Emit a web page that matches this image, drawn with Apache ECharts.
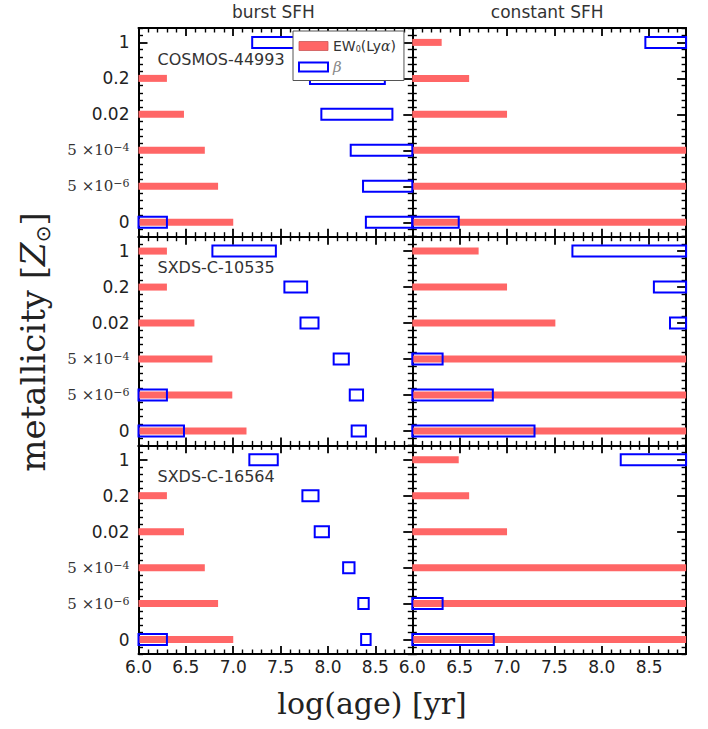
<!DOCTYPE html>
<html>
<head>
<meta charset="utf-8">
<script src="https://cdn.jsdelivr.net/npm/echarts@6/dist/echarts.min.js"></script>
<style>
  html, body { margin: 0; padding: 0; background: #fff; }
  #chart { width: 708px; height: 729px; }
</style>
</head>
<body>
<div id="chart"></div>
<script>
// metallicity rows, bottom to top (index 0 .. 5)
var metalNames = ['0', '5e-6', '5e-4', '0.02', '0.2', '1'];
var metalTickText = ['0', '{m|5 ×10}{e|−6}', '{m|5 ×10}{e|−4}', '0.02', '0.2', '1'];
var ageTicks = [6.0, 6.5, 7.0, 7.5, 8.0, 8.5];
var ageMin = 6.0, ageMax = 8.89;
var columnTitles = ['burst SFH', 'constant SFH'];
var objectNames = ['COSMOS-44993', 'SXDS-C-10535', 'SXDS-C-16564'];

// EW0(Lya): upper end of allowed log(age) per metallicity row (null = none)
var ewBurstCosmos  = [7.00, 6.84, 6.70, 6.48, 6.30, null];
var ewConstCosmos  = [8.90, 8.90, 8.90, 7.00, 6.60, 6.31];
var ewBurst10535   = [7.14, 6.99, 6.78, 6.59, 6.30, 6.30];
var ewConst10535   = [8.90, 8.90, 8.90, 7.51, 7.00, 6.70];
var ewBurst16564   = [7.00, 6.84, 6.70, 6.48, 6.30, null];
var ewConst16564   = [8.90, 8.90, 8.90, 7.00, 6.60, 6.49];

// beta: allowed log(age) ranges [row, from, to]
var betaBurstCosmos = [[0, 6.00, 6.30], [0, 8.40, 8.90], [1, 8.37, 8.90], [2, 8.24, 8.90],
                       [3, 7.93, 8.68], [4, 7.81, 8.60], [5, 7.20, 8.20]];
var betaConstCosmos = [[0, 6.00, 6.49], [5, 8.46, 8.90]];
var betaBurst10535  = [[0, 6.00, 6.48], [0, 8.25, 8.40], [1, 6.00, 6.30], [1, 8.23, 8.37],
                       [2, 8.06, 8.22], [3, 7.71, 7.90], [4, 7.54, 7.78], [5, 6.78, 7.45]];
var betaConst10535  = [[0, 6.00, 7.29], [1, 6.00, 6.85], [2, 6.00, 6.32], [3, 8.72, 8.90],
                       [4, 8.55, 8.90], [5, 7.69, 8.90]];
var betaBurst16564  = [[0, 6.00, 6.30], [0, 8.35, 8.45], [1, 8.32, 8.43], [2, 8.16, 8.28],
                       [3, 7.86, 8.01], [4, 7.73, 7.90], [5, 7.17, 7.47]];
var betaConst16564  = [[0, 6.00, 6.86], [1, 6.00, 6.32], [5, 8.20, 8.90]];

var panels = [
  [ewBurstCosmos, betaBurstCosmos], [ewConstCosmos, betaConstCosmos],
  [ewBurst10535, betaBurst10535],   [ewConst10535, betaConst10535],
  [ewBurst16564, betaBurst16564],   [ewConst16564, betaConst16564]
];

var ewColor = '#ff6666', betaColor = '#0000ff';
var ewHeight = 7, betaHeight = 11;

var colLeft = [138.5, 412.3], panelW = 273.8;
var rowTop = [28, 236.7, 445.3], panelH = 208.7;

// tick positions
var yMajor = [0, 1, 2, 3, 4, 5];
var yMinor = [];
for (var k = -2; k <= 27; k++) { if (k % 5 !== 0) yMinor.push(k / 5); }
var xMinor = [];
for (var j = 0; j <= 28; j++) { if (j % 5 !== 0) xMinor.push(6 + j / 10); }

function isStep(v, step) { return Math.abs(v / step - Math.round(v / step)) < 1e-6; }

function xAxis(gi, pos, major, labels) {
  var label = labels
    ? { show: true, margin: 4, fontFamily: 'DejaVu Sans', fontSize: 17, color: '#222',
        formatter: function (v) { return isStep(v, 0.5) && v <= 8.5 ? v.toFixed(1) : ''; } }
    : { show: false };
  return {
    type: 'value', gridIndex: gi, position: pos, min: ageMin, max: ageMax,
    axisLine: { show: major, onZero: false, lineStyle: { color: '#000', width: 2 } },
    axisTick: { show: true, inside: true, length: major ? 8 : 4.5,
      customValues: major ? ageTicks : xMinor, lineStyle: { color: '#000', width: major ? 1.8 : 1.4 } },
    axisLabel: label,
    splitLine: { show: false }
  };
}

function yAxis(gi, pos, major, labels) {
  var label = labels
    ? { show: true, margin: 9, fontFamily: 'DejaVu Sans', fontSize: 17, color: '#222',
        formatter: function (v) {
          return isStep(v, 1) && v >= 0 && v <= 5 ? metalTickText[Math.round(v)] : '';
        },
        rich: {
          m: { fontFamily: 'DejaVu Serif', fontSize: 15, color: '#333', lineHeight: 16,
               padding: [5, 0, 5, 0], verticalAlign: 'middle' },
          e: { fontFamily: 'DejaVu Serif', fontSize: 11, color: '#333', lineHeight: 12,
               verticalAlign: 'top' }
        } }
    : { show: false };
  return {
    type: 'value', gridIndex: gi, position: pos, min: -0.4, max: 5.4,
    axisLine: { show: major, onZero: false, lineStyle: { color: '#000', width: 2 } },
    axisTick: { show: true, inside: true, length: major ? 9 : 4.5,
      customValues: major ? yMajor : yMinor, lineStyle: { color: '#000', width: major ? 1.8 : 1.4 } },
    axisLabel: label,
    splitLine: { show: false }
  };
}

function renderEw(params, api) {
  var row = api.value(0);
  var p0 = api.coord([ageMin, row]);
  var p1 = api.coord([api.value(1), row]);
  var rect = echarts.graphic.clipRectByRect(
    { x: p0[0], y: p0[1] - ewHeight / 2, width: p1[0] - p0[0], height: ewHeight },
    params.coordSys);
  return rect && { type: 'rect', shape: rect, style: { fill: ewColor } };
}

function renderBeta(params, api) {
  var row = api.value(0);
  var p0 = api.coord([api.value(1), row]);
  var p1 = api.coord([api.value(2), row]);
  var rect = echarts.graphic.clipRectByRect(
    { x: p0[0], y: p0[1] - betaHeight / 2, width: p1[0] - p0[0], height: betaHeight },
    params.coordSys);
  return rect && { type: 'rect', shape: rect,
    style: { fill: 'none', stroke: betaColor, lineWidth: 2 } };
}

var grids = [], xAxes = [], yAxes = [], series = [], texts = [];

panels.forEach(function (p, i) {
  var row = Math.floor(i / 2), col = i % 2;
  grids.push({ left: colLeft[col], top: rowTop[row], width: panelW, height: panelH });
  xAxes.push(xAxis(i, 'bottom', true, row === 2));
  xAxes.push(xAxis(i, 'bottom', false));
  xAxes.push(xAxis(i, 'top', true));
  xAxes.push(xAxis(i, 'top', false));
  yAxes.push(yAxis(i, 'left', true, col === 0));
  yAxes.push(yAxis(i, 'left', false));
  yAxes.push(yAxis(i, 'right', true));
  yAxes.push(yAxis(i, 'right', false));

  var ewData = p[0].map(function (v, r) { return [r, v]; })
                   .filter(function (d) { return d[1] != null; });
  series.push({
    type: 'custom', name: 'ew', coordinateSystem: 'cartesian2d',
    xAxisIndex: i * 4, yAxisIndex: i * 4, z: 1, silent: true,
    encode: { x: 1, y: 0 }, data: ewData, renderItem: renderEw
  });
  series.push({
    type: 'custom', name: 'beta', coordinateSystem: 'cartesian2d',
    xAxisIndex: i * 4 + 1, yAxisIndex: i * 4 + 1, z: 2, silent: true,
    encode: { x: [1, 2], y: 0 }, data: p[1], renderItem: renderBeta
  });
  // an axis with no series gets no ticks: these invisible scatters bind the tick-only axes
  [2, 3].forEach(function (a) {
    series.push({
      type: 'scatter', xAxisIndex: i * 4 + a, yAxisIndex: i * 4 + a, silent: true,
      symbolSize: 0, itemStyle: { opacity: 0 }, encode: { x: 1, y: 0 }, data: ewData
    });
  });
});

objectNames.forEach(function (name, r) {
  texts.push({ type: 'text', x: colLeft[0] + 19, y: rowTop[r] + 31, z: 30,
    style: { text: name, font: '16px "DejaVu Sans"', fill: '#333', verticalAlign: 'middle' } });
});
columnTitles.forEach(function (t, c) {
  texts.push({ type: 'text', x: colLeft[c] + panelW / 2 - 2, y: 12, z: 30,
    style: { text: t, font: '17px "DejaVu Sans"', fill: '#333', align: 'center', verticalAlign: 'middle' } });
});
texts.push({ type: 'text', x: 372, y: 703, z: 30,
  style: { text: 'log(age) [yr]', font: '30px "DejaVu Serif"', fill: '#222',
           align: 'center', verticalAlign: 'middle' } });
texts.push({ type: 'text', x: 33, y: 342, z: 30, rotation: Math.PI / 2,
  style: { text: '{a|metallicity [}{z|Z}{s|⊙}{a|]}', align: 'center', verticalAlign: 'middle',
    rich: {
      a: { fontFamily: 'DejaVu Serif', fontSize: 34, fill: '#222', lineHeight: 40, verticalAlign: 'middle' },
      z: { fontFamily: 'DejaVu Serif', fontStyle: 'italic', fontSize: 34, fill: '#222', lineHeight: 40, verticalAlign: 'middle' },
      s: { fontFamily: 'DejaVu Sans', fontSize: 20, fill: '#222', lineHeight: 40, verticalAlign: 'bottom' }
    } } });

var chart = echarts.init(document.getElementById('chart'), null, { renderer: 'svg' });
chart.setOption({
  animation: false,
  grid: grids,
  xAxis: xAxes,
  yAxis: yAxes,
  legend: {
    left: 293, top: 31, orient: 'vertical', z: 20,
    padding: [8, 8, 6, 5], itemGap: 6, itemWidth: 29, itemHeight: 9,
    backgroundColor: '#fff', borderColor: '#555', borderWidth: 1, borderRadius: 0,
    selectedMode: false,
    data: [
      { name: 'ew', icon: 'rect', itemStyle: { color: ewColor, borderColor: '#c55', borderWidth: 0.8 } },
      { name: 'beta', icon: 'rect', itemStyle: { color: '#fff', borderColor: betaColor, borderWidth: 2 } }
    ],
    formatter: function (name) {
      return name === 'ew' ? '{a|EW}{s|0}{a|(Ly}{i|α}{a|)}' : '{b|β}';
    },
    textStyle: {
      rich: {
        a: { fontFamily: 'DejaVu Sans', fontSize: 14, color: '#333', lineHeight: 15 },
        s: { fontFamily: 'DejaVu Sans', fontSize: 8, color: '#333', lineHeight: 15, verticalAlign: 'bottom' },
        i: { fontFamily: 'DejaVu Serif', fontStyle: 'italic', fontSize: 14, color: '#333', lineHeight: 15 },
        b: { fontFamily: 'DejaVu Serif', fontStyle: 'italic', fontSize: 15, color: '#888', lineHeight: 15 }
      }
    }
  },
  graphic: texts,
  series: series
});
</script>
</body>
</html>
